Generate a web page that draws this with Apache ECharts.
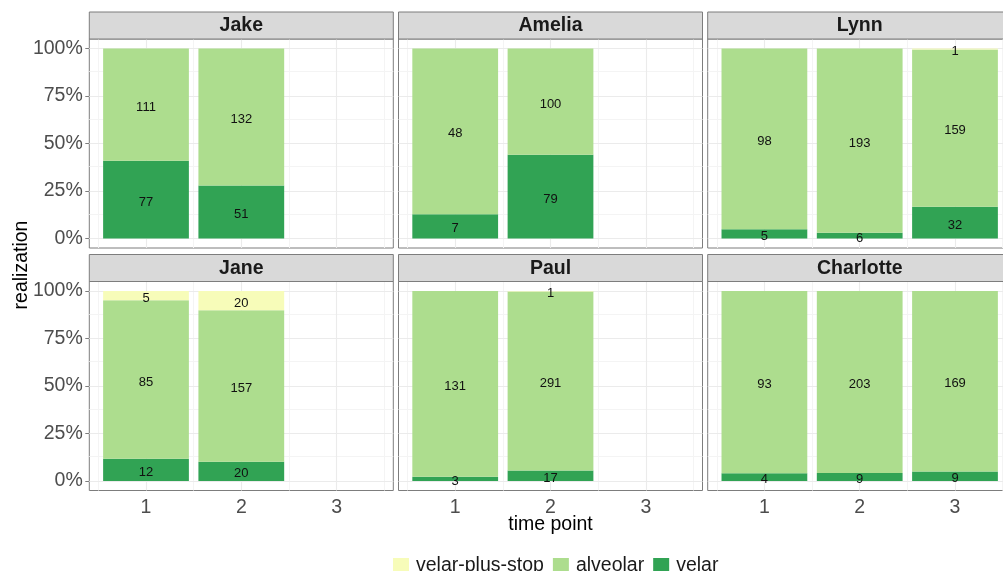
<!DOCTYPE html>
<html><head><meta charset="utf-8">
<script src="https://cdn.jsdelivr.net/npm/echarts@6/dist/echarts.min.js"></script>
<style>html,body{margin:0;padding:0;background:#fff}#c{width:1003px;height:571px}</style>
</head><body><div id="c"></div>
<script>
// ---------- data ----------
const speakers = ['Jake', 'Amelia', 'Lynn', 'Jane', 'Paul', 'Charlotte'];
const timePoints = [1, 2, 3];
const realizations = ['velar-plus-stop', 'alveolar', 'velar'];
// counts per speaker (rows) and time point (columns); null = not recorded
const velarCounts =         [[77, 51, null], [7, 79, null], [5, 6, 32],    [12, 20, null], [3, 17, null],   [4, 9, 9]];
const alveolarCounts =      [[111, 132, null], [48, 100, null], [98, 193, 159], [85, 157, null], [131, 291, null], [93, 203, 169]];
const velarPlusStopCounts = [[0, 0, null], [0, 0, null], [0, 0, 1],     [5, 20, null], [0, 1, null],    [0, 0, 0]];
const yTickValues = [0, 0.25, 0.5, 0.75, 1];
const yTickLabels = ['0%', '25%', '50%', '75%', '100%'];
const yMinorValues = [0.125, 0.375, 0.625, 0.875];
const xTickValues = [1, 2, 3];
const xTickLabels = ['1', '2', '3'];
const xMinorValues = [0.5, 1.5, 2.5, 3.5];
const xAxisTitle = 'time point';
const yAxisTitle = 'realization';

// ---------- styling / layout ----------
const FONT = '"Liberation Sans", Arial, Helvetica, sans-serif';
const colors = { 'velar-plus-stop': '#f7fcb9', 'alveolar': '#addd8e', 'velar': '#31a354' };
const countsByName = { 'velar-plus-stop': velarPlusStopCounts, 'alveolar': alveolarCounts, 'velar': velarCounts };
const colLeft = [89.3, 398.5, 707.7];
const rowTop = [39, 281.5];
const panelW = 304, panelH = 209, stripH = 27;
const xMin = 0.405, xMax = 3.595, yMin = -0.05, yMax = 1.05;
const barW = 0.9 * panelW / (xMax - xMin);
const borderCol = '#7d7d7d';
const majorStyle = { color: '#ebebeb', width: 1.1, type: 'solid' };
const minorStyle = { color: '#f4f4f4', width: 1, type: 'solid' };

const grids = [], xAxes = [], yAxes = [], series = [], graphics = [];

speakers.forEach((name, g) => {
  const col = g % 3, row = Math.floor(g / 3);
  const left = colLeft[col], top = rowTop[row];
  grids.push({ left: left, top: top, width: panelW, height: panelH, show: true,
    backgroundColor: '#fff', borderColor: borderCol, borderWidth: 1,
    containLabel: false, outerBoundsMode: 'none' });
  const bottomRow = row === 1, leftCol = col === 0;
  xAxes.push({ type: 'value', gridIndex: g, min: xMin, max: xMax,
    axisLine: { show: false }, splitLine: { show: false },
    axisTick: { show: bottomRow, customValues: xTickValues, length: 4, lineStyle: { color: borderCol } },
    axisLabel: { show: bottomRow, customValues: xTickValues, margin: 7,
      formatter: v => xTickLabels[xTickValues.indexOf(v)],
      fontFamily: FONT, fontSize: 19.5, color: '#4d4d4d' } });
  yAxes.push({ type: 'value', gridIndex: g, min: yMin, max: yMax,
    axisLine: { show: false }, splitLine: { show: false },
    axisTick: { show: leftCol, customValues: yTickValues, length: 4, lineStyle: { color: borderCol } },
    axisLabel: { show: leftCol, customValues: yTickValues, margin: 6.5,
      formatter: v => yTickLabels[yTickValues.indexOf(v)],
      fontFamily: FONT, fontSize: 19.5, color: '#4d4d4d' } });

  // totals per time point
  const totals = timePoints.map((t, i) => realizations.reduce((s, r) => s + (countsByName[r][g][i] || 0), 0));

  // bottom to top: velar, alveolar, velar-plus-stop  (stacked by index: every series has all time points)
  ['velar', 'alveolar', 'velar-plus-stop'].forEach((r, k) => {
    const data = timePoints.map((t, i) => {
      const c = countsByName[r][g][i] || 0;
      return { value: [totals[i] ? c / totals[i] : 0, t], count: c };
    });
    const s = { type: 'bar', name: r, xAxisIndex: g, yAxisIndex: g, stack: 'st' + g,
      encode: { x: 1, y: 0 },
      barWidth: barW, data: data, animation: false,
      itemStyle: { color: colors[r] },
      label: { show: true, position: 'inside', offset: [0, 2.5],
        formatter: p => (p.data.count ? String(p.data.count) : ''),
        color: '#111', fontFamily: FONT, fontSize: 13 } };
    if (k === 0) {
      s.markLine = { silent: true, z: 1, symbol: ['none', 'none'], animation: false,
        label: { show: false }, lineStyle: { type: 'solid' },
        data: [
          ...yMinorValues.map(v => ({ yAxis: v, lineStyle: minorStyle })),
          ...xMinorValues.map(v => ({ xAxis: v, lineStyle: minorStyle })),
          ...yTickValues.map(v => ({ yAxis: v, lineStyle: majorStyle })),
          ...xTickValues.map(v => ({ xAxis: v, lineStyle: majorStyle }))
        ] };
    }
    series.push(s);
  });

  // facet strip
  const stripTop = top - stripH;
  graphics.push({ type: 'rect', z: 10, shape: { x: left, y: stripTop, width: panelW, height: stripH },
    style: { fill: '#d9d9d9', stroke: borderCol, lineWidth: 1 } });
  graphics.push({ type: 'text', z: 11, x: left + panelW / 2, y: stripTop + stripH / 2 + 0.5,
    style: { text: name, fontFamily: FONT, fontSize: 19.5, fontWeight: 'bold', fill: '#1a1a1a',
      align: 'center', verticalAlign: 'middle', textAlign: 'center', textVerticalAlign: 'middle' } });
});

graphics.push({ type: 'text', z: 11, x: (colLeft[0] + colLeft[2] + panelW) / 2, y: 525,
  style: { text: xAxisTitle, fontFamily: FONT, fontSize: 19.5, fill: '#000',
    align: 'center', verticalAlign: 'middle', textAlign: 'center', textVerticalAlign: 'middle' } });
graphics.push({ type: 'text', z: 11, x: 22, y: 265, rotation: Math.PI / 2,
  style: { text: yAxisTitle, fontFamily: FONT, fontSize: 19.5, fill: '#000',
    align: 'center', verticalAlign: 'middle', textAlign: 'center', textVerticalAlign: 'middle' } });

const chart = echarts.init(document.getElementById('c'), null, { renderer: 'canvas' });
chart.setOption({
  animation: false,
  backgroundColor: '#fff',
  grid: grids, xAxis: xAxes, yAxis: yAxes, series: series,
  legend: { data: realizations, left: 393, top: 556, padding: 0, orient: 'horizontal', icon: 'rect',
    itemWidth: 16, itemHeight: 16, itemGap: 9, selectedMode: false,
    textStyle: { fontFamily: FONT, fontSize: 19.5, color: '#1a1a1a', padding: [0, 0, 0, 2] } },
  graphic: { elements: graphics }
});
</script></body></html>
